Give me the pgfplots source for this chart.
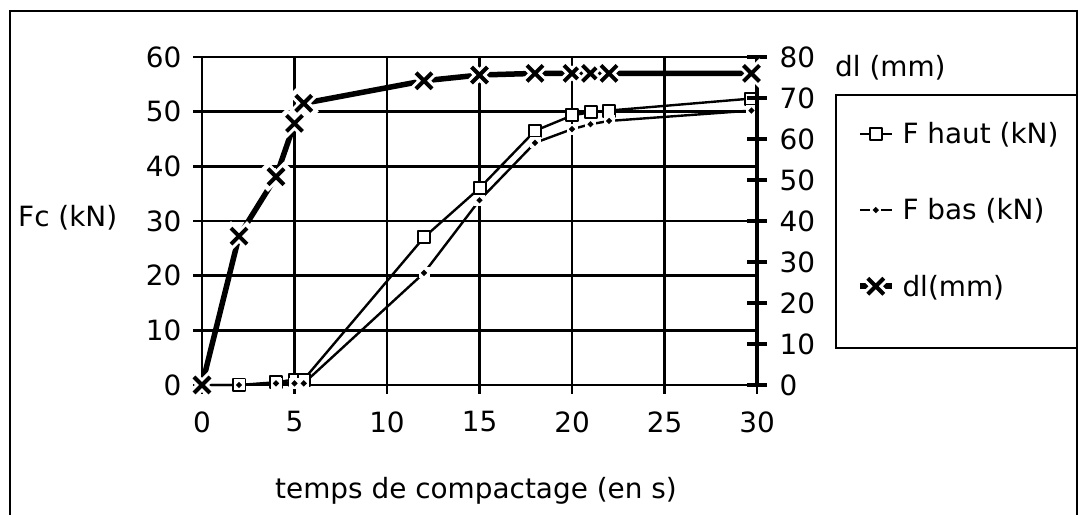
\documentclass[border=0pt]{standalone}
\usepackage{fontspec}
\setmainfont{DejaVu Sans}
\usepackage{pgfplots}
\pgfplotsset{compat=1.18}

\pgfdeclareplotmark{xhalo}{%
  \pgfsetrectcap
  \pgfpathmoveto{\pgfqpoint{-\pgfplotmarksize}{-\pgfplotmarksize}}%
  \pgfpathlineto{\pgfqpoint{\pgfplotmarksize}{\pgfplotmarksize}}%
  \pgfpathmoveto{\pgfqpoint{-\pgfplotmarksize}{\pgfplotmarksize}}%
  \pgfpathlineto{\pgfqpoint{\pgfplotmarksize}{-\pgfplotmarksize}}%
  \pgfsetlinewidth{10bp}\pgfsetstrokecolor{white}%
  \pgfusepathqstroke
  \pgfsetbuttcap
  \pgfpathmoveto{\pgfqpoint{-\pgfplotmarksize}{-\pgfplotmarksize}}%
  \pgfpathlineto{\pgfqpoint{\pgfplotmarksize}{\pgfplotmarksize}}%
  \pgfpathmoveto{\pgfqpoint{-\pgfplotmarksize}{\pgfplotmarksize}}%
  \pgfpathlineto{\pgfqpoint{\pgfplotmarksize}{-\pgfplotmarksize}}%
  \pgfsetlinewidth{4bp}\pgfsetstrokecolor{black}%
  \pgfusepathqstroke
}
\pgfdeclareplotmark{dhalo}{%
  \pgfpathrectangle{\pgfqpoint{-5.5bp}{-5.5bp}}{\pgfqpoint{11bp}{11bp}}%
  \pgfsetfillcolor{white}\pgfusepathqfill
  \pgfpathmoveto{\pgfqpoint{0bp}{3.2bp}}%
  \pgfpathlineto{\pgfqpoint{3.2bp}{0bp}}%
  \pgfpathlineto{\pgfqpoint{0bp}{-3.2bp}}%
  \pgfpathlineto{\pgfqpoint{-3.2bp}{0bp}}%
  \pgfpathclose
  \pgfsetfillcolor{black}\pgfusepathqfill
}

\pgfplotsset{
  fhaut/.style={black, line width=2.4bp, line join=round, mark=square*, mark size=6bp,
    mark options={fill=white, draw=black, line width=2bp, solid}},
  fbas/.style={black, line width=2.4bp, line join=round, mark=dhalo},
  dlst/.style={black, line width=5.5bp, line join=round, mark=xhalo, mark size=8bp},
  every axis/.append style={
    font=\fontsize{28}{34}\selectfont,
    tick label style={font=\fontsize{28}{34}\selectfont},
    /pgf/number format/assume math mode=true,
    legend image code/.code={\draw[mark repeat=2,mark phase=2] plot coordinates {(0bp,0bp) (16bp,0bp) (32bp,0bp)};},
  },
}

\begin{document}
\begin{tikzpicture}[x=1bp,y=1bp,font=\fontsize{28}{34}\selectfont]
\useasboundingbox (0,0) rectangle (1079,515);
\draw[line width=2.8bp] (10,-10) -- (10,504) -- (1077,504) -- (1077,-10);
\draw[line width=2.8bp] (836,420) rectangle (1077,167);

\begin{axis}[
  at={(202bp,130bp)}, anchor=south west,
  width=555bp, height=328bp, scale only axis,
  xmin=0, xmax=30, ymin=0, ymax=60,
  xtick={0,5,...,30}, ytick={0,10,...,60},
  axis lines*=left,
  axis line style={line width=2.4bp, black},
  grid=major, major grid style={black, line width=2.4bp},
  tick align=outside, major tick length=9bp,
  tick style={black, line width=2.4bp},
  clip=false,
  xticklabel style={yshift=-14bp},
  yticklabel style={xshift=-8bp},
  ylabel={Fc (kN)},
  ylabel style={rotate=-90, at={(axis description cs:-0.3315,0.509)}, anchor=west, inner sep=0pt},
  xlabel={temps de compactage (en s)},
  xlabel style={at={(axis description cs:0.1315,-0.3455)}, anchor=base west, inner sep=0pt},
]
\addplot[fhaut] coordinates {(0,0) (2,0) (4,0.5) (5,1) (5.5,1) (12,27) (15,36) (18,46.5) (20,49.3) (21,49.9) (22,50.2) (29.7,52.4)};
\addplot[fbas] coordinates {(0,0) (2,0) (4,0.3) (5,0.3) (5.5,0.3) (12,20.5) (15,33.8) (18,44.3) (20,46.8) (21,47.7) (22,48.3) (29.7,50.2)};
\end{axis}

\begin{axis}[
  at={(202bp,130bp)}, anchor=south west,
  width=555bp, height=328bp, scale only axis,
  xmin=0, xmax=30, ymin=0, ymax=80,
  hide x axis,
  axis y line*=right,
  ytick={0,10,...,80},
  axis line style={line width=3.8bp, black},
  tick align=center, major tick length=20bp,
  tick style={black, line width=3.8bp},
  yticklabel style={xshift=9bp},
  clip=false,
  ylabel={dl (mm)},
  ylabel style={rotate=-90, at={(axis description cs:1.1405,0.9665)}, anchor=west, inner sep=0pt},
  legend cell align=left,
  legend style={draw=none, fill=none, at={(axis description cs:1.1802,0.8003)}, anchor=north west,
    inner sep=0pt, outer sep=0pt, row sep=53.5bp, column sep=8bp, nodes={inner sep=0pt},
    font=\fontsize{28}{34}\selectfont},
]
\addlegendimage{fhaut}
\addlegendentry{F haut (kN)}
\addlegendimage{fbas}
\addlegendentry{F bas (kN)}
\addplot[dlst] coordinates {(0,0) (2,36.3) (4,50.8) (5,63.8) (5.5,68.7) (12,74.2) (15,75.6) (18,76) (20,76) (21,76) (22,76) (29.7,76)};
\addlegendentry{dl(mm)}
\end{axis}
\end{tikzpicture}
\end{document}
